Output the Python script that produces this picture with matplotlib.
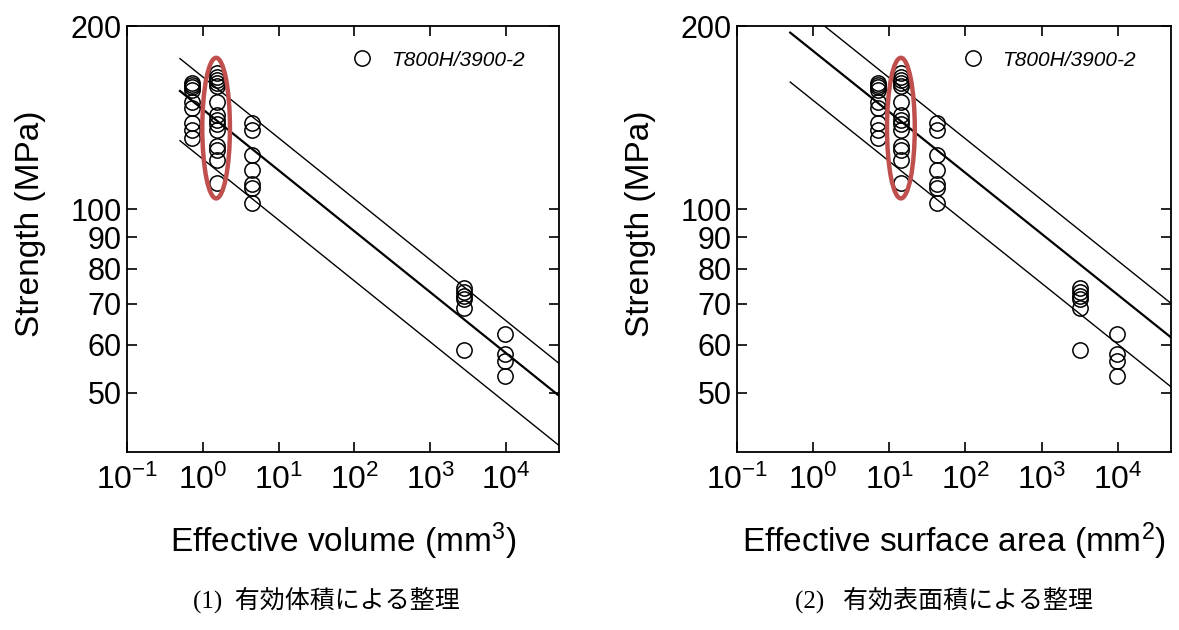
import numpy as np
import matplotlib
matplotlib.use("Agg")
import matplotlib.pyplot as plt
from matplotlib.patches import Ellipse
from matplotlib.ticker import NullLocator

plt.rcParams['font.family'] = ['Liberation Sans', 'DejaVu Sans']
plt.rcParams['mathtext.fontset'] = 'custom'
plt.rcParams['mathtext.rm'] = 'Liberation Sans'
plt.rcParams['mathtext.it'] = 'Liberation Sans:italic'

# strength groups (MPa), one list per specimen size
strength = [
    [161, 160, 159, 157, 150, 147, 138.5, 135, 131],
    [167.5, 165, 163, 161, 159.5, 150, 143, 140, 138, 135, 127, 125, 120.5, 110.5],
    [138.5, 135, 122.7, 116, 110, 108.3, 102.3],
    [74.4, 73.3, 72.2, 71.4, 69, 58.7],
    [62.5, 58, 56.4, 53.3],
]
vol_x = [0.72, 1.55, 4.5, 2830, 9800]      # effective volume (mm3)
area_x = [7.1, 14.2, 42.6, 3200, 9800]     # effective surface area (mm2)

# Weibull lines sigma = A * x^(-1/m)
weibull_m = 10
vol_A = [165, 146, 121]
area_A = [207, 182, 151]
line_w = [1.0, 1.6, 1.0]

xlim = (0.1, 5e4)
ylim = (40, 200)
yticks = [50, 60, 70, 80, 90, 100, 200]
xticks = [1e-1, 1e0, 1e1, 1e2, 1e3, 1e4]
xticklabels = [r'10$^{-1}$', r'10$^{0}$', r'10$^{1}$', r'10$^{2}$', r'10$^{3}$', r'10$^{4}$']

fig = plt.figure(figsize=(11.79, 6.30), dpi=100)
ax1 = fig.add_axes([0.1077, 0.2825, 0.3664, 0.6762])
ax2 = fig.add_axes([0.6251, 0.2825, 0.3681, 0.6762])


def draw(ax, xs, coefs, xlabel, ell_x, ell_y):
    ax.set_xscale('log')
    ax.set_yscale('log')
    ax.set_xlim(*xlim)
    ax.set_ylim(*ylim)
    first = True
    for x, ys in zip(xs, strength):
        ax.plot([x] * len(ys), ys, 'o', ms=11, mfc='none', mec='black', mew=1.1,
                label='T800H/3900-2' if first else None)
        first = False
    xx = np.array([0.5, 5e4])
    for A, w in zip(coefs, line_w):
        ax.plot(xx, A * xx ** (-1.0 / weibull_m), color='black', lw=w)
    ax.set_xticks(xticks)
    ax.set_xticklabels(xticklabels)
    ax.set_yticks(yticks)
    ax.set_yticklabels([str(v) for v in yticks])
    ax.xaxis.set_minor_locator(NullLocator())
    ax.yaxis.set_minor_locator(NullLocator())
    ax.tick_params(direction='in', top=True, right=True, length=7, width=1.2,
                   labelsize=23)
    ax.tick_params(axis='x', pad=9)
    ax.tick_params(axis='y', pad=4, labelsize=22)
    for s in ax.spines.values():
        s.set_linewidth(1.3)
    ax.set_xlabel(xlabel, fontsize=24, labelpad=18)
    ax.set_ylabel('Strength (MPa)', fontsize=24)
    ax.yaxis.set_label_coords(-0.187, 0.535)
    ax.legend(loc='center left', bbox_to_anchor=(0.52, 0.92), frameon=False,
              prop={'style': 'italic', 'size': 15}, handlelength=1,
              handletextpad=0.9, borderpad=0, borderaxespad=0, numpoints=1)
    cx, cy = ax.transAxes.inverted().transform(ax.transData.transform((ell_x, ell_y)))
    ax.add_patch(Ellipse((cx, cy), 0.064, 0.33, transform=ax.transAxes,
                         fill=False, ec='#C0504D', lw=3.2, zorder=5))


draw(ax1, vol_x, vol_A, r'Effective volume (mm$^3$)', 1.5, 136)
draw(ax2, area_x, area_A, r'Effective surface area (mm$^2$)', 14.2, 136)

cap_font = ['Liberation Serif', 'Noto Sans CJK JP']
fig.text(326 / 1179, 1 - 600 / 630, '(1)  有効体積による整理', ha='center', va='center',
         fontsize=18, family=cap_font)
fig.text(944 / 1179, 1 - 600 / 630, '(2)   有効表面積による整理', ha='center', va='center',
         fontsize=18, family=cap_font)

fig.savefig('out.png', dpi=100)
